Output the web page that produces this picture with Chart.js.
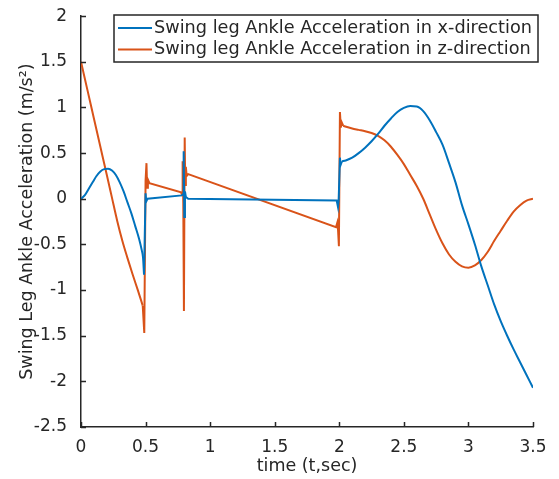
<!DOCTYPE html>
<html>
<head>
<meta charset="utf-8">
<script src="https://cdn.jsdelivr.net/npm/chart.js@4.4.1/dist/chart.umd.min.js"></script>
<style>
  html, body { margin: 0; padding: 0; background: #ffffff; }
  #wrap { width: 559px; height: 479px; }
</style>
</head>
<body>
<div id="wrap"><canvas id="c" width="559" height="479"></canvas></div>
<script>
// ---- data ----
const seriesNames = ['Swing leg Ankle Acceleration in x-direction', 'Swing leg Ankle Acceleration in z-direction'];

const tX = [0,0.03,0.06,0.09,0.12,0.15,0.18,0.21,0.24,0.27,
            0.3,0.33,0.36,0.39,0.42,0.45,0.47,0.48,0.488,
            0.5,0.505,0.515,
            0.78,0.79,0.795,0.8,0.805,0.812,0.83,
            1.98,1.99,1.995,2.005,2.01,2.02,
            2.05,2.1,2.15,2.2,2.25,2.3,2.35,2.4,2.45,2.5,
            2.55,2.6,2.65,2.7,2.75,2.8,2.85,2.9,2.95,3.0,
            3.05,3.1,3.15,3.2,3.25,3.3,3.35,3.4,3.45,3.5];
const accX = [0,0.04,0.11,0.18,0.25,0.30,0.325,0.33,0.31,0.26,
              0.18,0.08,-0.04,-0.16,-0.3,-0.44,-0.56,-0.64,-0.83,
              0.06,-0.03,0.0,
              0.037,0.05,0.52,-0.2,0.08,0.02,0.0,
              -0.02,-0.09,-0.02,0.45,0.37,0.41,
              0.42,0.45,0.5,0.56,0.63,0.71,0.8,0.88,0.95,0.995,
              1.015,1.01,0.96,0.86,0.73,0.59,0.39,0.18,-0.07,-0.28,
              -0.5,-0.74,-0.95,-1.16,-1.34,-1.5,-1.65,-1.79,-1.93,-2.07];

const tZ = [0,0.05,0.1,0.15,0.2,0.24,0.28,0.32,0.36,0.4,0.44,
            0.478,0.49,0.5,0.507,0.512,0.518,0.53,
            0.775,0.783,0.787,0.792,0.797,0.803,0.807,0.812,0.818,0.83,
            1.975,1.985,1.99,1.997,2.005,2.012,2.018,2.03,
            2.1,2.15,2.2,2.25,2.3,2.35,2.4,2.45,2.5,2.55,
            2.6,2.65,2.7,2.75,2.8,2.85,2.9,2.95,3.0,3.05,
            3.1,3.15,3.2,3.25,3.3,3.35,3.4,3.45,3.5];
const accZ = [1.5,1.19,0.88,0.57,0.26,0.01,-0.24,-0.46,-0.65,-0.83,-1.0,
              -1.17,-1.47,0.2,0.39,0.12,0.21,0.17,
              0.07,0.04,0.41,-0.05,-1.23,0.67,0.15,0.35,0.25,0.27,
              -0.31,-0.26,-0.33,-0.52,0.95,0.78,0.84,0.80,
              0.77,0.755,0.74,0.72,0.69,0.64,0.57,0.48,0.38,0.26,
              0.14,0.0,-0.17,-0.34,-0.49,-0.61,-0.69,-0.74,-0.755,-0.73,
              -0.67,-0.58,-0.46,-0.35,-0.24,-0.14,-0.07,-0.02,0.0];

// smooth stretches (before the first impact, after the last one); the rest is drawn straight
const smoothBefore = [0.488, 0.478];
const smoothAfter = [2.02, 2.03];

const xTicks = [0,0.5,1,1.5,2,2.5,3,3.5];
const yTicks = [-2.5,-2,-1.5,-1,-0.5,0,0.5,1,1.5,2];
const xTitle = 'time (t,sec)';
const yTitle = 'Swing Leg Ankle Acceleration (m/s\u00B2)';

const colors = ['#0072BD', '#D95319'];
const axisColor = '#262626';
const FONT = "'DejaVu Sans', sans-serif";
const FS = 17;
const FS_TITLE = 17.5;

function pts(t, v) { return t.map((x, i) => ({ x: x, y: v[i] })); }

function pieces(t, v, k) {
  const all = pts(t, v);
  const a = all.filter(p => p.x <= smoothBefore[k]);
  const b = all.filter(p => p.x >= smoothBefore[k] && p.x <= smoothAfter[k]);
  const c = all.filter(p => p.x >= smoothAfter[k]);
  const base = { borderColor: colors[k], backgroundColor: colors[k], borderWidth: 2, pointRadius: 0, fill: false,
                 label: seriesNames[k] };
  return [
    Object.assign({}, base, { data: a, cubicInterpolationMode: 'monotone' }),
    Object.assign({}, base, { data: b, tension: 0 }),
    Object.assign({}, base, { data: c, cubicInterpolationMode: 'monotone' })
  ];
}

// inward tick marks (MATLAB style)
const innerTicks = {
  id: 'innerTicks',
  afterDraw(chart) {
    const { ctx, chartArea: a, scales } = chart;
    ctx.save();
    ctx.strokeStyle = axisColor;
    ctx.lineWidth = 1.5;
    ctx.beginPath();
    scales.x.ticks.forEach(tk => {
      const px = Math.round(scales.x.getPixelForValue(tk.value)) + 0.5;
      ctx.moveTo(px, a.bottom); ctx.lineTo(px, a.bottom - 5);
    });
    scales.y.ticks.forEach(tk => {
      const py = Math.round(scales.y.getPixelForValue(tk.value)) + 0.5;
      ctx.moveTo(a.left, py); ctx.lineTo(a.left + 5, py);
    });
    ctx.stroke();
    ctx.restore();
  }
};

// boxed legend inside the plot, top right
const boxLegend = {
  id: 'boxLegend',
  afterDatasetsDraw(chart) {
    const { ctx } = chart;
    const x0 = 114, y0 = 15, w = 424, h = 47;
    ctx.save();
    ctx.fillStyle = '#ffffff';
    ctx.fillRect(x0, y0, w, h);
    ctx.strokeStyle = axisColor;
    ctx.lineWidth = 1.5;
    ctx.strokeRect(x0, y0, w, h);
    ctx.font = '17.7px ' + FONT;
    ctx.textBaseline = 'middle';
    ctx.textAlign = 'left';
    seriesNames.forEach((name, i) => {
      const yy = y0 + 13 + i * 21.5;
      ctx.strokeStyle = colors[i];
      ctx.lineWidth = 2;
      ctx.beginPath();
      ctx.moveTo(x0 + 4, yy); ctx.lineTo(x0 + 38, yy);
      ctx.stroke();
      ctx.fillStyle = axisColor;
      ctx.fillText(name, x0 + 40, yy);
    });
    ctx.restore();
  }
};

new Chart(document.getElementById('c'), {
  type: 'line',
  data: {
    datasets: [].concat(pieces(tX, accX, 0), pieces(tZ, accZ, 1))
  },
  options: {
    responsive: false,
    animation: false,
    devicePixelRatio: 1,
    layout: { padding: { left: 0, top: 14, right: 26, bottom: 0 } },
    plugins: { legend: { display: false }, tooltip: { enabled: false } },
    scales: {
      x: {
        type: 'linear', min: 0, max: 3.5,
        afterBuildTicks: s => { s.ticks = xTicks.map(v => ({ value: v })); },
        afterFit: s => { s.height = 52; },
        grid: { display: false },
        border: { display: true, color: axisColor, width: 1.5 },
        ticks: { color: axisColor, font: { family: FONT, size: FS }, padding: 2, maxRotation: 0,
                 callback: v => String(v) },
        title: { display: true, text: xTitle, color: axisColor, font: { family: FONT, size: FS_TITLE },
                 padding: { top: 0, bottom: 2 } }
      },
      y: {
        type: 'linear', min: -2.5, max: 2,
        afterBuildTicks: s => { s.ticks = yTicks.map(v => ({ value: v })); },
        afterFit: s => { s.width = 81; },
        grid: { display: false },
        border: { display: true, color: axisColor, width: 1.5 },
        ticks: { color: axisColor, font: { family: FONT, size: FS }, padding: 6,
                 callback: v => String(v) },
        title: { display: true, text: yTitle, color: axisColor, font: { family: FONT, size: FS_TITLE },
                 padding: { top: 17, bottom: 0 } }
      }
    }
  },
  plugins: [innerTicks, boxLegend]
});
</script>
</body>
</html>
